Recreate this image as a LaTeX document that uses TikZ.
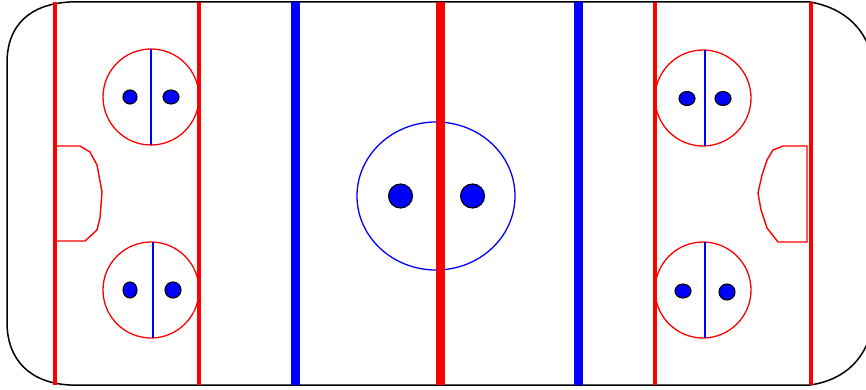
\documentclass[tikz,border=0pt]{standalone}
\usetikzlibrary{positioning}
\usetikzlibrary{shapes.geometric}

\begin{document}
\begin{tikzpicture}[x=1pt,y=-1pt,
every node/.style={inner sep=0pt,outer sep=0pt},
faceoff/.style={circle,draw=red,line width=1.3pt,minimum size=96pt},
spot/.style={ellipse,draw=black,fill=blue,line width=1.1pt},
crease/.style={draw=red,line width=1.4pt},
thinred/.style={red,line width=3.2pt},
wideline/.style={line width=9pt}]
\useasboundingbox (0,0) rectangle (866,390);
\clip (0,0) rectangle (866,390);
% boards
\draw[line width=1.5pt] (70,2) -- (810,2) .. controls (845,8) and (868,30) .. (873,63)
 -- (873,322) .. controls (868,358) and (845,380) .. (810,385) -- (70,385)
 .. controls (30,383) and (7,360) .. (7,322) -- (7,63)
 .. controls (7,25) and (30,4) .. (70,2) -- cycle;
% center ice
\node[ellipse,draw=blue,line width=1.3pt,minimum width=158pt,minimum height=148pt] (C) at (436,196) {};
\node[spot,minimum size=24pt] (C1) at (400.5,196) {};
\node[spot,minimum size=24pt] (C2) at (472.5,196) {};
% faceoff circles
\node[faceoff] (F1) at (151,97) {};
\node[faceoff] (F2) at (151,290) {};
\node[faceoff] (F3) at (703,98) {};
\node[faceoff] (F4) at (703,290) {};
\draw[blue,line width=1.3pt] (151,49) -- (151,145);
\draw[blue,line width=1.3pt] (153,242) -- (153,338);
\draw[blue,line width=1.3pt] (705,50) -- (705,146);
\draw[blue,line width=1.3pt] (705,242) -- (705,338);
\node[spot,minimum width=14pt,minimum height=14pt] (S1) at (130,97) {};
\node[spot,minimum width=16pt,minimum height=14pt] (S2) at (171,97) {};
\node[spot,minimum width=14pt,minimum height=16pt] (S3) at (130,290) {};
\node[spot,minimum width=16pt,minimum height=16pt] (S4) at (173,290) {};
\node[spot,minimum width=16pt,minimum height=14pt] (S5) at (687,98.5) {};
\node[spot,minimum width=16pt,minimum height=14pt] (S6) at (723,98.5) {};
\node[spot,minimum width=16pt,minimum height=14pt] (S7) at (683,291) {};
\node[spot,minimum width=16pt,minimum height=16pt] (S8) at (727,292) {};
% goal creases
\draw[crease] (55,146) -- (80,146) -- (90,152) -- (97,165) -- (102,192)
 -- (100,218) -- (97,230) -- (85,241) -- (55,241);
\draw[crease] (807,146) -- (783,146) -- (773,150) -- (767,160) -- (762,175)
 -- (758,193) -- (761,210) -- (767,228) -- (778,242) -- (807,242) -- cycle;
% lines
\draw[thinred] (55,2) -- (55,385);
\draw[thinred] (199,2) -- (199,385);
\draw[thinred] (655,2) -- (655,385);
\draw[thinred] (811,2) -- (811,385);
\draw[wideline,blue] (295.5,2) -- (295.5,385);
\draw[wideline,blue] (578,2) -- (578,385);
\draw[wideline,red] (440,2) -- (440,385);
\end{tikzpicture}
\end{document}
